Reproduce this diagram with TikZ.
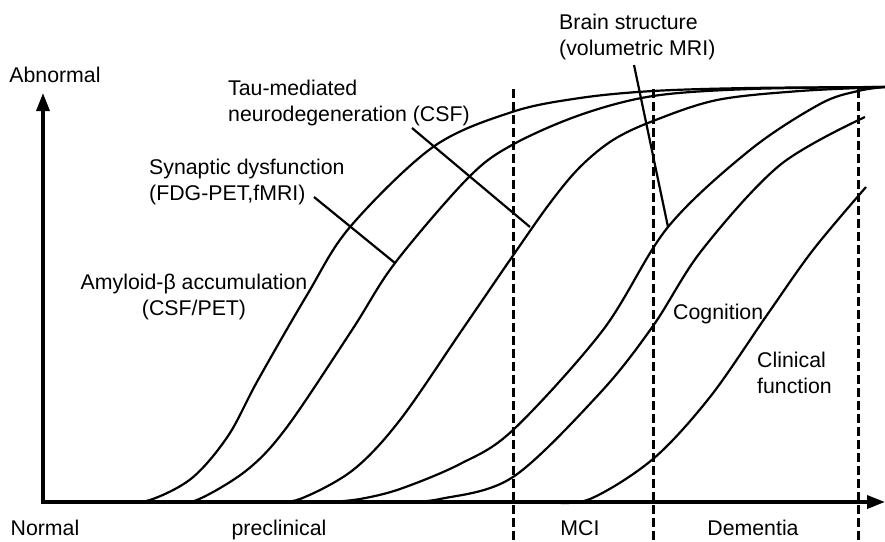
\documentclass[tikz,border=0pt]{standalone}
\usepackage{fontspec}
\setmainfont{Liberation Sans}
\usetikzlibrary{arrows.meta}
\begin{document}
\begin{tikzpicture}
        [x=1pt,y=-1pt,
        every node/.style={inner sep=0pt,font=\fontsize{21.3}{25.5}\selectfont},
        curve/.style={line width=2.2pt},
        phase/.style={line width=3pt,dash pattern=on 9pt off 4pt},
        leader/.style={line width=2.2pt}]
    \useasboundingbox (0,0) rectangle (885,541);
    % phase borders
    \draw[phase] (513,89) -- (513,541);
    \draw[phase] (653,89) -- (653,541);
    \draw[phase] (858,89) -- (858,541);
    % axes
    \draw[line width=3.5pt,{Triangle[length=18pt,width=13pt]}-{Triangle[length=18pt,width=13pt]}]
        (43,93) -- (43,502) -- (885,502);
    % biomarker curves
    \draw[curve] plot[smooth,tension=0.55] coordinates {(120,502) (150,500) (192,478) (228,436)
        (258,380) (307,295) (350,227) (433,147) (512,112) (580,98) (653,91) (750,88) (885,87)};
    \draw[curve] plot[smooth,tension=0.55] coordinates {(170,502) (197,500) (247,470) (287,427)
        (352,330) (395,263) (468,178) (512,145) (580,115) (653,96) (750,89) (885,87)};
    \draw[curve] plot[smooth,tension=0.55] coordinates {(270,502) (300,499) (353,470) (400,420) (462,330)
        (512,257) (550,203) (580,167) (613,140) (653,121) (717,100) (800,91) (885,87)};
    \draw[curve] plot[smooth,tension=0.55] coordinates {(330,502) (360,499) (400,489) (460,464) (513,430)
        (603,330) (668,227) (750,150) (820,104) (858,91) (885,87)};
    \draw[curve] plot[smooth,tension=0.55] coordinates {(400,502) (440,499) (513,477)
        (600,393) (653,326) (702,250) (780,165) (865,117)};
    \draw[curve] plot[smooth,tension=0.55] coordinates {(550,502) (590,499) (653,459) (710,397)
        (767,315) (813,250) (866,187)};
    % labels
    \node[anchor=north] (abnormal) at (55,67) {Abnormal};
    \node[anchor=north] (normal) at (45,520) {Normal};
    \node[anchor=north] (preclin) at (279,520) {preclinical};
    \node[anchor=north] (mci) at (580,520) {MCI};
    \node[anchor=north] (dementia) at (753,520) {Dementia};
    \node[anchor=north,align=center] (amyloid) at (194,274) {Amyloid-β accumulation\\(CSF/PET)};
    \node[anchor=north west,align=left] (synaptic) at (149,159) {Synaptic dysfunction\\(FDG-PET,fMRI)};
    \node[anchor=north west,align=left] (tau) at (228,80) {Tau-mediated\\neurodegeneration (CSF)};
    \node[anchor=north west,align=left] (brain) at (559,14) {Brain structure\\(volumetric MRI)};
    \node[anchor=north west] (cognition) at (673,304) {Cognition};
    \node[anchor=north west,align=left] (clinical) at (757,352) {Clinical\\function};
    % leaders
    \coordinate (synA) at (314,197);
    \coordinate (synB) at (395,263);
    \coordinate (tauA) at (412,128);
    \coordinate (tauB) at (530,227);
    \coordinate (brainA) at (634,65);
    \coordinate (brainB) at (668,227);
    \draw[leader] (synA) -- (synB);
    \draw[leader] (tauA) -- (tauB);
    \draw[leader] (brainA) -- (brainB);
\end{tikzpicture}
\end{document}
